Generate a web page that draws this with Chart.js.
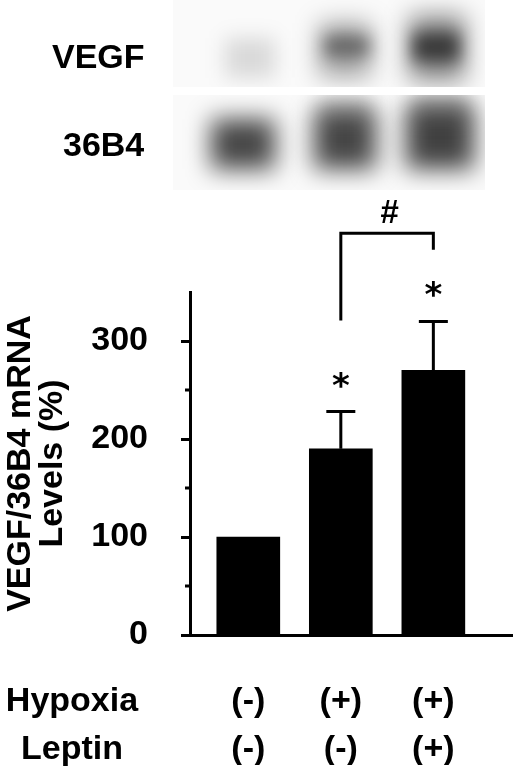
<!DOCTYPE html>
<html>
<head>
<meta charset="UTF-8" />
<title>VEGF/36B4 mRNA levels</title>
<script src="https://cdn.jsdelivr.net/npm/chart.js@4.4.1/dist/chart.umd.min.js"></script>
<style>
  html, body { margin: 0; padding: 0; background: #fff; }
  #wrap { position: relative; width: 520px; height: 775px; font-family: "Liberation Sans", Arial, sans-serif; }
  #blot, #chart { position: absolute; left: 0; top: 0; }
  .lbl { position: absolute; font-weight: bold; font-size: 34px; line-height: 1; color: #000; }
</style>
<script>
  // bar chart values (VEGF/36B4 mRNA, % of control)
  const groups = ['control', 'hypoxia', 'hypoxia + leptin']
  const xPos = [1, 2, 3]
  const levels = [100, 190, 270]
  const errors = [0, 38, 50]
  const stars = ['', '*', '*']
  const hypoxia = ['(-)', '(+)', '(+)']
  const leptin = ['(-)', '(-)', '(+)']
  const rowLabels = ['Hypoxia', 'Leptin']
  const yTicks = [0, 100, 200, 300]
  const yMinorTicks = [50, 150, 250]
  // "#" bracket between group 2 and 3, heights in y units
  const bracketGroups = [2, 3]
  const bracketEnds = [321, 393]
  const bracketTop = 410

  const FONT = '"Liberation Sans", Arial, sans-serif'
  const TICK_PAD = 43
  const ROW_H = 48

  const drawBlot = function () {
    const c = document.querySelector('#blot').getContext('2d')
    const panels = [
      { y: 0, h: 87, bands: [
        [250, 58, 50, 40, 0.13, 10],
        [345, 50, 52, 54, 0.35, 12],
        [347, 46, 46, 20, 0.38, 8],
        [437, 48, 56, 66, 0.45, 12],
        [436, 47, 48, 28, 0.58, 8]
      ] },
      { y: 95, h: 95, bands: [
        [243, 144, 64, 50, 0.72, 12],
        [345, 140, 62, 58, 0.72, 12],
        [345, 110, 52, 22, 0.25, 10],
        [440, 138, 68, 62, 0.74, 12],
        [440, 106, 58, 22, 0.30, 10]
      ] }
    ]
    panels.forEach(p => {
      c.save()
      c.beginPath()
      c.rect(173, p.y, 312, p.h)
      c.clip()
      c.fillStyle = '#fafafa'
      c.fillRect(173, p.y, 312, p.h)
      p.bands.forEach(([cx, cy, w, h, a, b]) => {
        c.filter = `blur(${b}px)`
        c.fillStyle = `rgba(0,0,0,${a})`
        c.fillRect(cx - w / 2, cy - h / 2, w, h)
      })
      c.restore()
    })
  }

  const extras = {
    id: 'extras',
    afterDraw(chart) {
      const { ctx, chartArea } = chart
      const x = chart.scales.x
      const y = chart.scales.y
      ctx.save()
      ctx.strokeStyle = '#000'
      ctx.fillStyle = '#000'
      ctx.lineWidth = 3
      // minor y ticks
      yMinorTicks.forEach(v => {
        const py = y.getPixelForValue(v)
        ctx.beginPath()
        ctx.moveTo(chartArea.left - 5, py)
        ctx.lineTo(chartArea.left, py)
        ctx.stroke()
      })
      // error bars + stars
      xPos.forEach((v, i) => {
        const px = x.getPixelForValue(v)
        if (errors[i] > 0) {
          const top = y.getPixelForValue(levels[i] + errors[i])
          ctx.beginPath()
          ctx.moveTo(px, y.getPixelForValue(levels[i]))
          ctx.lineTo(px, top)
          ctx.moveTo(px - 14.5, top)
          ctx.lineTo(px + 14.5, top)
          ctx.stroke()
        }
        if (stars[i]) {
          const cy = y.getPixelForValue(levels[i] + errors[i]) - 34
          ctx.font = `bold 34px "DejaVu Sans", sans-serif`
          ctx.textAlign = 'center'
          ctx.textBaseline = 'alphabetic'
          ctx.fillText(stars[i], px, cy + 19)
        }
      })
      // bracket
      const bx1 = x.getPixelForValue(bracketGroups[0])
      const bx2 = x.getPixelForValue(bracketGroups[1])
      const by = y.getPixelForValue(bracketTop)
      ctx.beginPath()
      ctx.moveTo(bx1, y.getPixelForValue(bracketEnds[0]))
      ctx.lineTo(bx1, by)
      ctx.lineTo(bx2, by)
      ctx.lineTo(bx2, y.getPixelForValue(bracketEnds[1]))
      ctx.stroke()
      ctx.font = `italic bold 33px ${FONT}`
      ctx.textAlign = 'center'
      ctx.textBaseline = 'alphabetic'
      ctx.fillText('#', (bx1 + bx2) / 2 + 2, by - 10)
      // row labels under the x axis
      ctx.font = `bold 34px ${FONT}`
      ctx.textBaseline = 'middle'
      rowLabels.forEach((t, r) => {
        ctx.fillText(t, 72, chartArea.bottom + TICK_PAD + ROW_H / 2 + r * ROW_H)
      })
      ctx.restore()
    }
  }

  const draw = function () {
    drawBlot()
    const context = document.querySelector('#chart').getContext('2d')
    window.chart = new Chart(context, {
      type: 'bar',
      data: {
        datasets: [{
          label: 'VEGF/36B4',
          data: xPos.map((v, i) => ({ x: v, y: levels[i] })),
          backgroundColor: '#000',
          borderWidth: 0,
          barThickness: 63
        }]
      },
      options: {
        responsive: false,
        animation: false,
        layout: { padding: { top: 292, right: 8, bottom: 10, left: 0 } },
        plugins: { legend: { display: false }, tooltip: { enabled: false } },
        scales: {
          x: {
            type: 'linear',
            offset: false,
            min: 0.37,
            max: 3.85,
            afterFit: s => { s.height = 130 },
            afterBuildTicks: s => { s.ticks = xPos.map(v => ({ value: v })) },
            border: { color: '#000', width: 3 },
            grid: { display: false, drawTicks: false },
            ticks: {
              color: '#000',
              autoSkip: false,
              maxRotation: 0,
              padding: TICK_PAD,
              font: { family: FONT, size: 34, weight: 'bold', lineHeight: ROW_H / 34 },
              callback: (v, i) => [hypoxia[i], leptin[i]]
            }
          },
          y: {
            min: 0,
            max: 350,
            afterFit: s => { s.width = 190 },
            afterBuildTicks: s => { s.ticks = yTicks.map(v => ({ value: v })) },
            border: { color: '#000', width: 3 },
            grid: { drawOnChartArea: false, color: '#000', tickLength: 9, tickWidth: 3, tickColor: '#000' },
            ticks: { color: '#000', padding: 33, font: { family: FONT, size: 34, weight: 'bold' } },
            title: {
              display: true,
              text: ['VEGF/36B4 mRNA', 'Levels (%)'],
              color: '#000',
              padding: { top: 5, bottom: 0 },
              font: { family: FONT, size: 34, weight: 'bold', lineHeight: 0.94 }
            }
          }
        }
      },
      plugins: [extras]
    })
  }
  window.onload = function () {
    draw()
  }
</script>
</head>
<body>
  <div id="wrap">
    <canvas id="blot" width="520" height="195"></canvas>
    <div class="lbl" style="left:52px; top:39px">VEGF</div>
    <div class="lbl" style="left:63px; top:127px">36B4</div>
    <canvas id="chart" width="520" height="775"></canvas>
  </div>
</body>
</html>
